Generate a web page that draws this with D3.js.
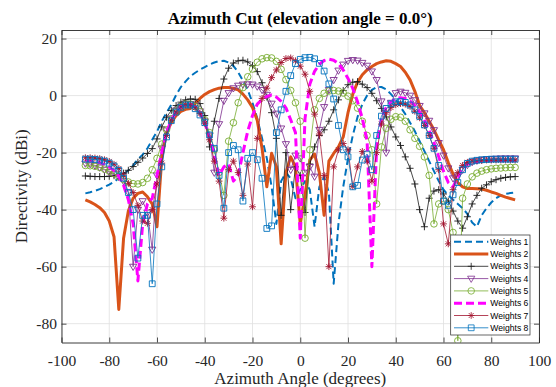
<!DOCTYPE html>
<html>
<head>
<meta charset="utf-8">
<script src="https://cdn.jsdelivr.net/npm/d3@7"></script>
<style>
	body { margin: 0; background: #fff; }
	svg { display: block; }
</style>
</head>
<body>
<div id="chart"></div>
<script>
// azimuth samples (degrees)
const azimuth = [
	-90, -88, -86, -84, -82, -80, -78, -76, -74, -72,
	-70, -68, -66, -64, -62, -60, -58, -56, -54, -52,
	-50, -48, -46, -44, -42, -40, -38, -36, -34, -32,
	-30, -28, -26, -24, -22, -20, -18, -16, -14, -12,
	-10, -8, -6, -4, -2, 0, 2, 4, 6, 8,
	10, 12, 14, 16, 18, 20, 22, 24, 26, 28,
	30, 32, 34, 36, 38, 40, 42, 44, 46, 48,
	50, 52, 54, 56, 58, 60, 62, 64, 66, 68,
	70, 72, 74, 76, 78, 80, 82, 84, 86, 88,
	90
];

// directivity (dBi)
const weights1 = [
	-34.3, -33.9, -33.4, -32.8, -32.1, -31.2, -30.2, -29.0, -27.7, -26.2,
	-24.5, -22.3, -20.7, -18.5, -15.5, -12.6, -9.0, -6.0, -3.2, 0.2,
	3.0, 5.0, 6.8, 8.0, 9.1, 10.0, 10.9, 11.6, 12.1, 12.2,
	11.6, 10.4, 8.2, 5.2, 2.0, -2.5, -8.0, -15.0, -22.0, -32.0,
	-45.0, -30.0, -27.0, -29.0, -36.0, -33.0, -30.0, -33.0, -46.0, -32.0,
	-28.5, -34.0, -66.0, -45.0, -32.0, -22.0, -14.0, -7.5, -3.0, 0.0,
	2.0, 3.0, 3.0, 2.2, 0.5, -1.5, -4.0, -6.5, -9.5, -12.5,
	-16.0, -19.5, -23.0, -26.5, -30.0, -33.0, -35.0, -36.5, -38.0, -39.5,
	-41.5, -44.5, -46.0, -42.0, -39.5, -37.5, -36.0, -35.0, -34.5, -34.2,
	-34.0
];
const weights2 = [
	-36.6, -37.3, -38.2, -39.3, -41.0, -44.0, -49.5, -75.0, -50.0, -40.5,
	-36.0, -34.3, -33.8, -35.5, -38.0, -46.0, -22.0, -13.0, -9.5, -7.0,
	-5.5, -4.8, -4.5, -2.8, -1.0, 0.4, 1.4, 2.1, 2.6, 2.8,
	2.8, 2.5, 2.0, 0.5, -1.5, -4.2, -8.7, -18.5, -32.0, -20.2,
	-25.0, -52.0, -27.0, -21.5, -25.0, -45.0, -35.0, -22.6, -20.5, -27.0,
	-42.0, -23.0, -20.3, -18.0, -14.5, -6.0, 0.5, 4.7, 7.3, 9.0,
	10.2, 11.2, 11.8, 12.2, 12.0, 11.2, 10.2, 8.2, 5.5, 1.5,
	-3.5, -6.0, -9.0, -12.0, -15.5, -19.0, -23.5, -27.5, -30.5, -32.0,
	-32.6, -32.6, -32.7, -32.8, -33.2, -33.8, -34.3, -35.0, -35.6, -36.1,
	-36.6
];
const weights3 = [
	-28.2, -28.3, -28.4, -28.4, -28.4, -28.3, -28.1, -27.8, -27.2, -26.2,
	-24.9, -23.4, -21.9, -20.3, -18.6, -15.2, -11.0, -7.6, -5.2, -3.5,
	-2.3, -1.5, -1.2, -1.3, -2.8, -7.0, -18.0, -9.0, -1.0, 5.8,
	9.6, 11.4, 12.2, 12.4, 11.8, 10.5, 8.4, 4.5, -0.5, -6.0,
	-15.0, -42.0, -20.0, -40.0, -25.0, -28.0, -41.0, -24.0, -18.0, -14.0,
	-12.0, -9.0, -5.0, -1.5, 1.8, 3.8, 4.7, 4.9, 4.0, 2.8,
	0.8, -1.8, -4.5, -7.5, -11.0, -14.5, -17.5, -21.5, -25.5, -31.0,
	-40.0, -46.0, -36.0, -33.5, -33.0, -34.5, -37.0, -40.5, -44.0, -46.5,
	-42.5, -38.0, -35.0, -32.5, -31.3, -30.2, -29.5, -29.0, -28.7, -28.5,
	-28.4
];
const weights4 = [
	-23.8, -24.0, -24.5, -25.2, -26.0, -26.8, -27.5, -28.5, -30.0, -34.0,
	-60.0, -40.0, -37.0, -41.0, -54.0, -28.0, -18.5, -12.2, -8.0, -5.2,
	-3.8, -3.0, -2.9, -3.5, -5.5, -9.0, -14.0, -27.0, -10.0, -1.8,
	0.9, 2.6, 3.5, 3.9, 4.0, 3.9, 3.2, 2.0, 0.3, -2.8,
	-6.3, -11.5, -17.0, -26.0, -21.0, -22.0, -27.0, -25.0, -28.4, -12.0,
	-4.0, 2.0, 5.5, 8.8, 10.9, 12.2, 12.5, 12.3, 11.5, 10.5,
	8.5, 5.5, -2.0, -20.0, -2.5, 0.9, 1.4, 1.0, 0.0, -1.6,
	-3.6, -6.2, -8.8, -12.1, -16.6, -21.0, -25.5, -29.0, -28.3, -26.0,
	-24.3, -23.3, -22.8, -22.5, -22.3, -22.2, -22.1, -22.0, -22.0, -22.0,
	-22.0
];
const weights5 = [
	-24.5, -24.6, -24.8, -25.2, -25.8, -26.5, -27.4, -28.4, -29.4, -30.3,
	-30.9, -31.0, -30.5, -29.0, -26.0, -22.0, -17.0, -12.0, -8.2, -5.5,
	-3.8, -3.0, -3.0, -3.8, -5.5, -8.5, -13.0, -19.0, -27.0, -35.0,
	-16.0, -9.5, -2.5, 2.8, 6.6, 9.3, 11.7, 12.9, 13.3, 13.2,
	12.0, 9.2, 5.6, 1.8, -2.5, -9.0, -50.0, -19.0, -5.0, -1.0,
	0.8, 1.6, 1.8, 1.6, 0.9, -0.2, -1.8, -4.4, -9.0, -14.0,
	-19.0, -38.0, -18.0, -11.5, -8.3, -7.4, -7.6, -9.0, -12.0, -15.0,
	-17.8, -21.5, -28.0, -45.0, -38.0, -37.0, -40.0, -48.0, -86.0, -36.0,
	-31.0, -28.5, -27.2, -26.5, -26.0, -25.7, -25.5, -25.4, -25.3, -25.2,
	-25.2
];
const weights6 = [
	-22.8, -22.9, -23.1, -23.5, -24.1, -25.0, -26.3, -28.3, -31.5, -36.5,
	-45.0, -65.0, -45.0, -38.0, -36.0, -28.0, -20.0, -13.0, -8.6, -5.7,
	-4.0, -3.2, -3.2, -4.2, -6.2, -9.5, -14.5, -21.0, -28.0, -25.0,
	-24.0, -30.0, -28.0, -20.0, -12.5, -7.0, -3.0, -1.4, -0.3, 0.2,
	-0.5, -2.0, -4.3, -8.5, -13.0, -50.0, -8.0, 4.0, 8.5, 11.0,
	12.3, 12.8, 12.4, 11.2, 9.0, 6.0, 2.5, -2.2, -8.0, -16.0,
	-60.0, -18.0, -8.0, -4.2, -2.2, -1.0, -0.8, -1.0, -1.9, -3.5,
	-5.8, -8.7, -12.2, -16.5, -21.5, -26.5, -30.5, -32.0, -28.5, -25.5,
	-24.0, -23.4, -23.1, -22.9, -22.8, -22.8, -22.8, -22.8, -22.8, -22.8,
	-22.8
];
const weights7 = [
	-21.8, -21.8, -21.9, -22.1, -22.5, -23.1, -24.1, -25.6, -27.8, -30.8,
	-34.0, -38.5, -44.0, -44.8, -40.0, -31.0, -23.7, -14.0, -8.7, -5.7,
	-4.0, -3.2, -3.3, -4.3, -6.3, -9.7, -15.5, -23.0, -30.0, -43.0,
	-26.0, -23.0, -27.0, -35.0, -24.0, -39.0, -15.0, -1.0, 2.6, 6.3,
	9.0, 11.6, 13.0, 13.2, 12.2, 10.3, 7.5, 1.5, -6.5, -13.5,
	-28.0, -60.0, -25.0, -19.0, -16.8, -19.0, -31.9, -25.0, -19.6, -23.0,
	-30.0, -20.0, -10.0, -6.0, -4.2, -3.2, -2.8, -3.0, -3.8, -5.5,
	-7.8, -10.5, -14.0, -18.5, -26.0, -45.0, -52.0, -33.0, -27.0, -24.5,
	-23.4, -23.0, -22.8, -22.7, -22.6, -22.6, -22.6, -22.6, -22.6, -22.6,
	-22.6
];
const weights8 = [
	-22.3, -22.3, -22.4, -22.6, -23.0, -23.7, -24.7, -26.2, -29.0, -34.0,
	-40.0, -57.0, -42.0, -42.0, -66.0, -38.0, -25.0, -14.5, -8.8, -5.8,
	-4.1, -3.3, -3.3, -4.6, -6.8, -9.5, -13.8, -18.5, -28.0, -39.5,
	-20.0, -17.5, -19.0, -37.0, -22.0, -20.0, -22.5, -29.0, -46.6, -45.7,
	-13.0, -5.0, 1.5, 7.0, 11.2, 12.7, 13.3, 13.4, 12.9, 11.3,
	8.6, 4.1, -1.2, -10.5, -19.0, -21.5, -32.0, -31.5, -22.6, -20.5,
	-26.0, -14.0, -7.2, -4.5, -2.9, -2.2, -2.1, -2.4, -3.3, -5.0,
	-7.3, -10.3, -14.0, -18.5, -24.5, -37.0, -38.5, -34.8, -30.5, -26.0,
	-23.8, -23.0, -22.7, -22.5, -22.4, -22.3, -22.3, -22.3, -22.3, -22.3,
	-22.3
];

const seriesNames = ['Weights 1', 'Weights 2', 'Weights 3', 'Weights 4', 'Weights 5', 'Weights 6', 'Weights 7', 'Weights 8'];
const xTicks = [-100, -80, -60, -40, -20, 0, 20, 40, 60, 80, 100];
const yTicks = [-80, -60, -40, -20, 0, 20];

const MARKERS = {
	plus: 'M-3.5,0H3.5M0,-3.5V3.5',
	star: 'M-3.4,0H3.4M0,-3.4V3.4M-2.5,-2.5L2.5,2.5M-2.5,2.5L2.5,-2.5',
	triangle: 'M-3.6,-2.4L3.6,-2.4L0,3.8Z',
	circle: 'M3.3,0A3.3,3.3,0,1,1,-3.3,0A3.3,3.3,0,1,1,3.3,0Z',
	square: 'M-2.9,-2.9H2.9V2.9H-2.9Z',
};

const STYLES = [
	{ color: '#0072BD', width: 2, dash: '7,4', marker: null },
	{ color: '#D95319', width: 3, dash: null, marker: null },
	{ color: '#1a1a1a', width: 0.8, dash: null, marker: 'plus' },
	{ color: '#7E2F8E', width: 0.8, dash: null, marker: 'triangle' },
	{ color: '#77AC30', width: 0.8, dash: null, marker: 'circle' },
	{ color: '#FF00FF', width: 3, dash: '8,4', marker: null },
	{ color: '#A2142F', width: 0.8, dash: null, marker: 'star' },
	{ color: '#0072BD', width: 0.8, dash: null, marker: 'square' },
];

const SERIF = "'Liberation Serif', 'Times New Roman', serif";
const SANS = "'Liberation Sans', Arial, sans-serif";

class AzimuthCutChart {
	constructor({ selector, width = 556, height = 387, margin, series }) {
		this.selector = selector;
		this.width = width;
		this.height = height;
		this.margin = margin;
		this.series = series;
	}
	createSvg() {
		this.svg = d3.select(this.selector)
			.append('svg')
				.attr('width', this.width)
				.attr('height', this.height);
		const { top, right, bottom, left } = this.margin;
		this.innerW = this.width - left - right;
		this.innerH = this.height - top - bottom;
		this.x = d3.scaleLinear().domain([-100, 100]).range([0, this.innerW]);
		this.y = d3.scaleLinear().domain([-86.6, 23]).range([this.innerH, 0]);
		this.body = this.svg.append('g')
			.attr('transform', `translate(${left},${top})`);
		this.body.append('clipPath')
			.attr('id', 'plot-clip')
			.append('rect')
				.attr('width', this.innerW)
				.attr('height', this.innerH);
	}
	renderGrid() {
		const grid = this.body.append('g').attr('class', 'grid')
			.style('stroke', '#dfdfdf')
			.style('stroke-width', 0.8);
		grid.selectAll('.gx')
			.data(xTicks)
			.enter().append('line')
				.attr('x1', d => this.x(d)).attr('x2', d => this.x(d))
				.attr('y1', 0).attr('y2', this.innerH);
		grid.selectAll('.gy')
			.data(yTicks)
			.enter().append('line')
				.attr('y1', d => this.y(d)).attr('y2', d => this.y(d))
				.attr('x1', 0).attr('x2', this.innerW);
	}
	renderSeries() {
		const line = d3.line()
			.x(d => this.x(d[0]))
			.y(d => this.y(d[1]));
		const layer = this.body.append('g').attr('clip-path', 'url(#plot-clip)');

		this.series.forEach((values, i) => {
			const style = STYLES[i];
			const points = azimuth.map((a, k) => [a, values[k]]);
			const g = layer.append('g').attr('class', `series s${i + 1}`);
			g.append('path')
				.datum(points)
				.attr('d', line)
				.style('fill', 'none')
				.style('stroke', style.color)
				.style('stroke-width', style.width)
				.style('stroke-dasharray', style.dash)
				.style('stroke-linejoin', 'round');
			if (style.marker) {
				g.selectAll('.m')
					.data(points)
					.enter().append('path')
						.attr('class', 'm')
						.attr('transform', d => `translate(${this.x(d[0])},${this.y(d[1])})`)
						.attr('d', MARKERS[style.marker])
						.style('fill', 'none')
						.style('stroke', style.color)
						.style('stroke-width', 0.9);
			}
		});
	}
	renderAxes() {
		const axes = this.body.append('g').attr('class', 'axes');
		// plain hyphen for negative labels, like the original
		const fmt = d => String(d);
		const styleAxis = (g, labels) => {
			g.select('.domain').style('stroke', '#262626').style('stroke-width', 0.9);
			g.selectAll('.tick line').style('stroke', '#262626').style('stroke-width', 0.8);
			g.selectAll('.tick text')
				.style('display', labels ? null : 'none')
				.style('fill', '#262626')
				.style('font-family', SERIF)
				.style('font-size', '15.5px');
		};
		axes.append('g')
			.attr('transform', `translate(0,${this.innerH})`)
			.call(d3.axisBottom(this.x).tickValues(xTicks).tickFormat(fmt).tickSize(-5).tickSizeOuter(0).tickPadding(12))
			.call(g => styleAxis(g, true));
		axes.append('g')
			.call(d3.axisTop(this.x).tickValues(xTicks).tickSize(-5).tickSizeOuter(0))
			.call(g => styleAxis(g, false));
		axes.append('g')
			.call(d3.axisLeft(this.y).tickValues(yTicks).tickFormat(fmt).tickSize(-5).tickSizeOuter(0).tickPadding(4.5))
			.call(g => styleAxis(g, true));
		axes.append('g')
			.attr('transform', `translate(${this.innerW},0)`)
			.call(d3.axisRight(this.y).tickValues(yTicks).tickSize(-5).tickSizeOuter(0))
			.call(g => styleAxis(g, false));
	}
	renderLabels() {
		const { left, top } = this.margin;
		const cx = left + this.innerW / 2;
		this.svg.append('text')
			.attr('x', cx).attr('y', 24.2)
			.attr('text-anchor', 'middle')
			.style('font-family', SERIF)
			.style('font-weight', 'bold')
			.style('font-size', '17px')
			.style('fill', '#000')
			.text('Azimuth Cut (elevation angle = 0.0°)');
		this.svg.append('text')
			.attr('x', cx).attr('y', 384)
			.attr('text-anchor', 'middle')
			.style('font-family', SERIF)
			.style('font-size', '17px')
			.style('fill', '#262626')
			.text('Azimuth Angle (degrees)');
		this.svg.append('text')
			.attr('transform', `translate(27,${top + this.innerH / 2}) rotate(-90)`)
			.attr('text-anchor', 'middle')
			.style('font-family', SERIF)
			.style('font-size', '17px')
			.style('fill', '#262626')
			.text('Directivity (dBi)');
	}
	renderLegend() {
		const box = { x: 450.7, y: 235, w: 79.3, h: 100 };
		const legend = this.svg.append('g').attr('class', 'legend');
		legend.append('rect')
			.attr('x', box.x).attr('y', box.y)
			.attr('width', box.w).attr('height', box.h)
			.style('fill', '#fff')
			.style('stroke', '#262626')
			.style('stroke-width', 0.7);
		const rows = legend.selectAll('.row')
			.data(seriesNames)
			.enter().append('g')
				.attr('class', 'row')
				.attr('transform', (d, i) => `translate(0,${241.7 + i * 12.3})`);
		rows.append('line')
			.attr('x1', 454).attr('x2', 488.3)
			.style('stroke', (d, i) => STYLES[i].color)
			.style('stroke-width', (d, i) => STYLES[i].width)
			.style('stroke-dasharray', (d, i) => STYLES[i].dash);
		rows.filter((d, i) => !!STYLES[i].marker)
			.append('path')
				.attr('transform', 'translate(471.2,0)')
				.attr('d', (d) => MARKERS[STYLES[seriesNames.indexOf(d)].marker])
				.style('fill', 'none')
				.style('stroke', (d) => STYLES[seriesNames.indexOf(d)].color)
				.style('stroke-width', 0.8);
		rows.append('text')
			.attr('x', 490.3)
			.attr('dy', '0.35em')
			.style('font-family', SANS)
			.style('font-size', '8.6px')
			.style('fill', '#000')
			.text(d => d);
	}
	render() {
		this.createSvg();
		this.renderGrid();
		this.renderSeries();
		this.renderAxes();
		this.renderLegend();
		this.renderLabels();
	}
}

const chart = new AzimuthCutChart({
	selector: '#chart',
	margin: { top: 30, right: 17, bottom: 44.5, left: 61.5 },
	series: [weights1, weights2, weights3, weights4, weights5, weights6, weights7, weights8],
});
chart.render();
</script>
</body>
</html>
